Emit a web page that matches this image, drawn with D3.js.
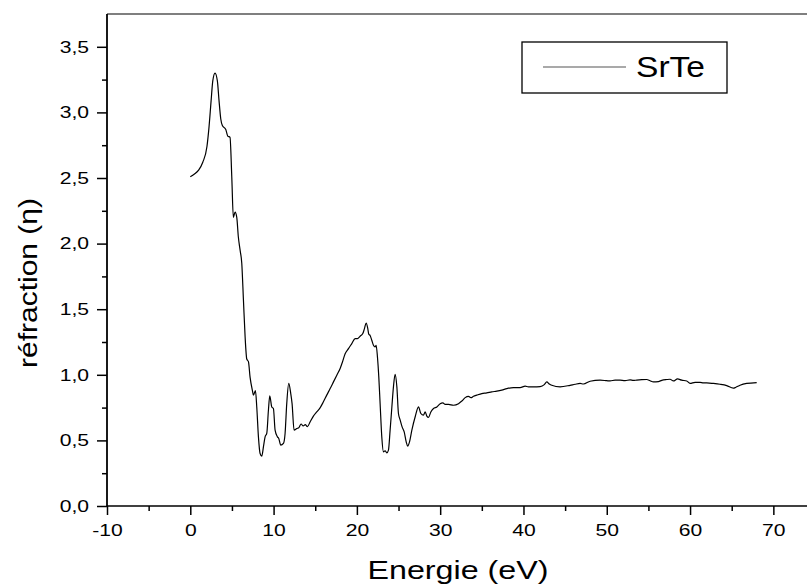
<!DOCTYPE html>
<html>
<head>
<meta charset="utf-8">
<script src="https://cdn.jsdelivr.net/npm/d3@7"></script>
<style>
  body { margin: 0; background: #fff; }
  svg { display: block; font-family: "Liberation Sans", Arial, sans-serif; }
</style>
</head>
<body>
<div id="graph"></div>
<script>
// values
var energy = [0.0, 0.5, 1.0, 1.5, 2.0, 2.25, 2.5, 2.7, 2.97, 3.25, 3.45, 3.66, 3.85, 4.26, 4.5, 4.77,
  4.98, 5.17, 5.38, 5.58, 5.77, 5.98, 6.18, 6.38, 6.58, 6.78, 6.98, 7.18, 7.46, 7.58, 7.82, 7.98,
  8.18, 8.38, 8.58, 8.78, 8.98, 9.18, 9.38, 9.54, 9.78, 9.98, 10.18, 10.46, 10.62, 10.86, 11.18,
  11.38, 11.58, 11.82, 12.06, 12.22, 12.46, 12.78, 13.06, 13.3, 13.55, 13.8, 14.06, 14.38, 14.78,
  15.18, 15.58, 15.98, 16.38, 16.79, 17.19, 17.59, 17.99, 18.27, 18.59, 18.99, 19.39, 19.79, 20.07,
  20.39, 20.71, 20.91, 21.11, 21.31, 21.43, 21.59, 21.79, 21.99, 22.19, 22.31, 22.47, 22.63, 22.79,
  22.99, 23.19, 23.39, 23.59, 23.79, 23.99, 24.2, 24.39, 24.59, 24.8, 24.99, 25.2, 25.43, 25.68,
  25.92, 26.1, 26.32, 26.6, 27.0, 27.4, 27.68, 27.99, 28.2, 28.4, 28.6, 28.88, 29.2, 29.6, 30.0,
  30.32, 30.6, 31.0, 31.6, 32.2, 32.6, 33.0, 33.4, 33.69, 34.0, 34.4, 35.0, 35.6, 36.2, 36.8, 37.4,
  38.0, 38.8, 39.6, 40.2, 40.6, 41.2, 42.0, 42.5, 42.8, 43.1, 43.4, 44.4, 45.6, 46.2, 46.8, 47.2,
  48.0, 49.2, 50.0, 50.4, 51.0, 51.6, 52.2, 52.8, 53.2, 53.6, 54.2, 54.8, 55.2, 55.6, 56.2, 56.6,
  57.2, 57.6, 58.0, 58.5, 59.0, 59.6, 60.0, 60.6, 61.2, 61.6, 62.0, 62.8, 63.6, 64.4, 65.2, 65.5,
  66.0, 66.8, 68.0];

var refraction = [2.51, 2.53, 2.56, 2.62, 2.74, 2.89, 3.09, 3.24, 3.30, 3.24, 3.09, 2.95, 2.90, 2.87, 2.82, 2.81,
  2.51, 2.20, 2.24, 2.20, 2.05, 1.95, 1.85, 1.57, 1.29, 1.12, 1.10, 0.98, 0.88, 0.845, 0.88, 0.755,
  0.527, 0.40, 0.38, 0.45, 0.527, 0.553, 0.73, 0.84, 0.755, 0.743, 0.578, 0.527, 0.515, 0.464, 0.477,
  0.553, 0.78, 0.934, 0.857, 0.78, 0.578, 0.59, 0.60, 0.625, 0.61, 0.62, 0.605, 0.64, 0.685,
  0.717, 0.748, 0.794, 0.845, 0.895, 0.946, 0.997, 1.048, 1.098, 1.16, 1.20, 1.238, 1.276, 1.276,
  1.294, 1.314, 1.352, 1.395, 1.352, 1.309, 1.30, 1.263, 1.225, 1.212, 1.225, 1.136, 0.984, 0.78,
  0.527, 0.413, 0.421, 0.405, 0.426, 0.578, 0.755, 0.908, 1.004, 0.908, 0.705, 0.654, 0.603, 0.565,
  0.489, 0.456, 0.489, 0.578, 0.68, 0.755, 0.705, 0.692, 0.717, 0.685, 0.675, 0.717, 0.743, 0.755, 0.78,
  0.786, 0.774, 0.774, 0.768, 0.78, 0.80, 0.826, 0.836, 0.826, 0.836, 0.845, 0.857, 0.862, 0.87, 0.875, 0.883,
  0.895, 0.903, 0.903, 0.913, 0.908, 0.908, 0.91, 0.925, 0.946, 0.93, 0.92, 0.908, 0.92, 0.928, 0.934, 0.93,
  0.951, 0.959, 0.955, 0.953, 0.96, 0.959, 0.955, 0.962, 0.957, 0.96, 0.963, 0.964, 0.955, 0.946, 0.948, 0.958,
  0.964, 0.966, 0.953, 0.969, 0.959, 0.953, 0.934, 0.943, 0.943, 0.938, 0.938, 0.934, 0.928, 0.918, 0.898, 0.905,
  0.92, 0.934, 0.941];

var xMajor = [-10, 0, 10, 20, 30, 40, 50, 60, 70];
var xMinor = [-5, 5, 15, 25, 35, 45, 55, 65, 75];
var yMajor = [0, 0.5, 1.0, 1.5, 2.0, 2.5, 3.0, 3.5];
var yMinor = [0.25, 0.75, 1.25, 1.75, 2.25, 2.75, 3.25];
var seriesName = "SrTe";
var xTitle = "Energie (eV)";
var yTitle = "réfraction (η)";

var width = 807, height = 587;
var padLeft = 107, padRight = 815, padTop = 14, padBottom = 506;

var svg = d3.select("#graph").append("svg")
  .attr("width", width)
  .attr("height", height);

var x = d3.scaleLinear().domain([-10, 75]).range([padLeft, padRight]);
var y = d3.scaleLinear().domain([0, 3.75]).range([padBottom, padTop]);

var fmt = function(d) { return d3.format(".1f")(d).replace(".", ","); };

// frame top line
svg.append("line")
  .attr("x1", padLeft).attr("x2", width)
  .attr("y1", padTop).attr("y2", padTop)
  .attr("stroke", "#000").attr("stroke-width", 1.2);

// x axis
var gx = svg.append("g").attr("transform", "translate(0," + padBottom + ")");
gx.call(d3.axisBottom(x).tickValues(xMajor).tickSize(9).tickFormat(function(d) { return String(d); }));
gx.append("g").call(d3.axisBottom(x).tickValues(xMinor).tickSize(5).tickFormat(""))
  .select(".domain").remove();
gx.selectAll(".domain").attr("stroke-width", 1.6).attr("d", "M" + padLeft + ",0H" + width);
gx.selectAll(".tick line").attr("stroke-width", 1.5);
gx.selectAll(".tick text")
  .attr("y", 18)
  .attr("font-size", 16.5)
  .attr("fill", "#000")
  .attr("transform", "scale(1.28,1)")
  .attr("font-family", "Liberation Sans, Arial, sans-serif");

// y axis
var gy = svg.append("g").attr("transform", "translate(" + padLeft + ",0)");
gy.call(d3.axisLeft(y).tickValues(yMajor).tickSize(10).tickFormat(fmt));
gy.append("g").call(d3.axisLeft(y).tickValues(yMinor).tickSize(5).tickFormat(""))
  .select(".domain").remove();
gy.selectAll(".domain").attr("stroke-width", 1.8).attr("d", "M0," + padTop + "V" + padBottom);
gy.selectAll(".tick line").attr("stroke-width", 1.5);
gy.selectAll(".tick text")
  .attr("x", -18 / 1.28)
  .attr("font-size", 16.5)
  .attr("fill", "#000")
  .attr("transform", "scale(1.28,1)")
  .attr("font-family", "Liberation Sans, Arial, sans-serif");

// curve
var pts = energy.map(function(e, i) { return [e, refraction[i]]; });
var line = d3.line()
  .x(function(d) { return x(d[0]); })
  .y(function(d) { return y(d[1]); })
  .curve(d3.curveMonotoneX);

svg.append("path")
  .datum(pts)
  .attr("d", line)
  .attr("fill", "none")
  .attr("stroke", "#000")
  .attr("stroke-width", 1.2);

// legend
svg.append("rect")
  .attr("x", 522).attr("y", 42)
  .attr("width", 205).attr("height", 51)
  .attr("fill", "#fff")
  .attr("stroke", "#000").attr("stroke-width", 1.3);
svg.append("line")
  .attr("x1", 543).attr("x2", 626)
  .attr("y1", 67).attr("y2", 67)
  .attr("stroke", "#555").attr("stroke-width", 1.2);
svg.append("text")
  .attr("x", 636).attr("y", 77)
  .attr("font-size", 30)
  .attr("textLength", 69)
  .attr("lengthAdjust", "spacingAndGlyphs")
  .text(seriesName);

// axis titles
svg.append("text")
  .attr("x", 458).attr("y", 579)
  .attr("text-anchor", "middle")
  .attr("font-size", 26)
  .attr("textLength", 181)
  .attr("lengthAdjust", "spacingAndGlyphs")
  .text(xTitle);

svg.append("text")
  .attr("transform", "translate(37,283) rotate(-90)")
  .attr("text-anchor", "middle")
  .attr("font-size", 26)
  .attr("textLength", 170)
  .attr("lengthAdjust", "spacingAndGlyphs")
  .text(yTitle);
</script>
</body>
</html>
